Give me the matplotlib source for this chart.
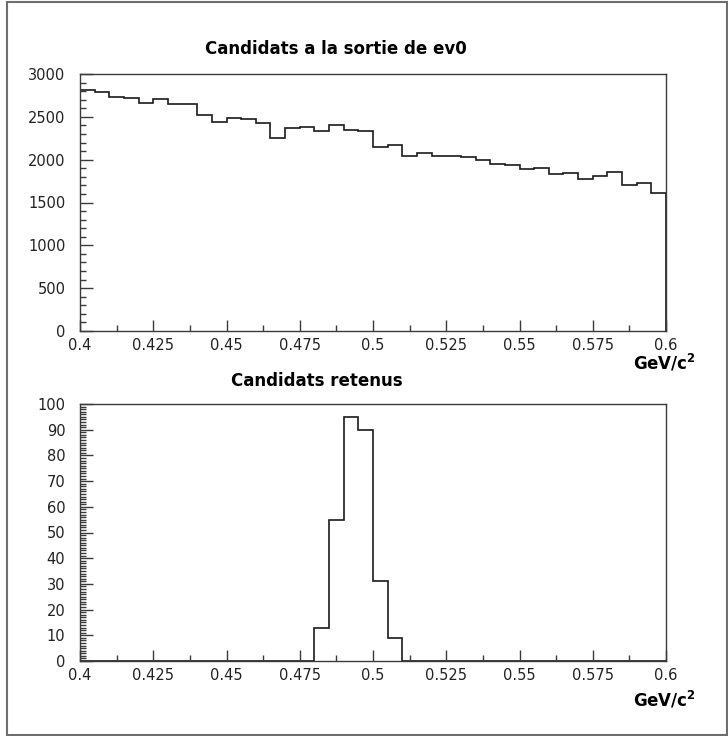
import numpy as np
import matplotlib
matplotlib.use("Agg")
import matplotlib.pyplot as plt
from matplotlib.patches import Rectangle
from matplotlib.ticker import MultipleLocator, FixedLocator, FixedFormatter

# Bin definition (GeV/c^2)
mass_lo = 0.4
mass_hi = 0.6
n_bins = 40

# Candidats a la sortie de ev0 (counts per bin)
counts_ev0 = [2813, 2794, 2735, 2716, 2658, 2704, 2646, 2646, 2525, 2440,
              2490, 2471, 2432, 2256, 2366, 2381, 2335, 2401, 2350, 2335,
              2148, 2167, 2039, 2074, 2043, 2043, 2028, 1996, 1953, 1934,
              1887, 1906, 1829, 1841, 1778, 1813, 1856, 1708, 1731, 1611]

# Candidats retenus (counts per bin)
counts_kept = [0, 0, 0, 0, 0, 0, 0, 0, 0, 0,
               0, 0, 0, 0, 0, 0, 13, 55, 95, 90,
               31, 9, 0, 0, 0, 0, 0, 0, 0, 0,
               0, 0, 0, 0, 0, 0, 0, 0, 0, 0]

x_ticks = [0.4, 0.425, 0.45, 0.475, 0.5, 0.525, 0.55, 0.575, 0.6]
x_tick_labels = ["0.4", "0.425", "0.45", "0.475", "0.5", "0.525", "0.55", "0.575", "0.6"]

W, H = 728, 736
frame_col = "#3a3a3a"
line_col = "#1a1a1a"
bold_size = 12


def px(x0, y0, x1, y1):
    # pixel box (top-left origin) -> figure fraction rect
    return [x0 / W, 1 - y1 / H, (x1 - x0) / W, (y1 - y0) / H]


def style_axes(ax, ymax, ymajor, yminor):
    ax.set_xlim(mass_lo, mass_hi)
    ax.set_ylim(0, ymax)
    for s in ax.spines.values():
        s.set_color(frame_col)
        s.set_linewidth(1.0)
    ax.xaxis.set_major_locator(FixedLocator(x_ticks))
    ax.xaxis.set_major_formatter(FixedFormatter(x_tick_labels))
    ax.xaxis.set_minor_locator(MultipleLocator(0.0125))
    ax.yaxis.set_major_locator(MultipleLocator(ymajor))
    ax.yaxis.set_minor_locator(MultipleLocator(yminor))
    ax.tick_params(which="both", direction="in", top=False, right=False,
                   color=frame_col, width=1.0, labelsize=10.5, labelcolor="#222222")
    ax.tick_params(axis="x", which="major", length=8, pad=5)
    ax.tick_params(axis="x", which="minor", length=4.5)
    ax.tick_params(axis="y", which="major", length=9, pad=10.5)
    ax.tick_params(axis="y", which="minor", length=4.5)


fig = plt.figure(figsize=(W / 100, H / 100), dpi=100)
edges = np.linspace(mass_lo, mass_hi, n_bins + 1)

# top histogram
ax1 = fig.add_axes(px(80, 74, 666, 331))
ax1.stairs(counts_ev0, edges, color=line_col, lw=1.2)
style_axes(ax1, 3000, 500, 100)
fig.text(336 / W, 1 - 49 / H, "Candidats a la sortie de ev0", ha="center", va="center",
         fontsize=bold_size, fontweight="bold")
fig.text(696 / W, 1 - 352 / H, r"GeV/c$^{\mathbf{2}}$", ha="right", va="top",
         fontsize=bold_size, fontweight="bold")

# bottom histogram
ax2 = fig.add_axes(px(80, 404, 666, 661))
ax2.stairs(counts_kept, edges, color=line_col, lw=1.2)
style_axes(ax2, 100, 10, 1)
fig.text(317 / W, 1 - 381 / H, "Candidats retenus", ha="center", va="center",
         fontsize=bold_size, fontweight="bold")
fig.text(696 / W, 1 - 689 / H, r"GeV/c$^{\mathbf{2}}$", ha="right", va="top",
         fontsize=bold_size, fontweight="bold")

# outer frame
fig.patches.append(Rectangle((7 / W, 1 / H), 720 / W, 733 / H, transform=fig.transFigure,
                             fill=False, ec="#6e6e6e", lw=1.5))

fig.savefig("out.png", dpi=100)
